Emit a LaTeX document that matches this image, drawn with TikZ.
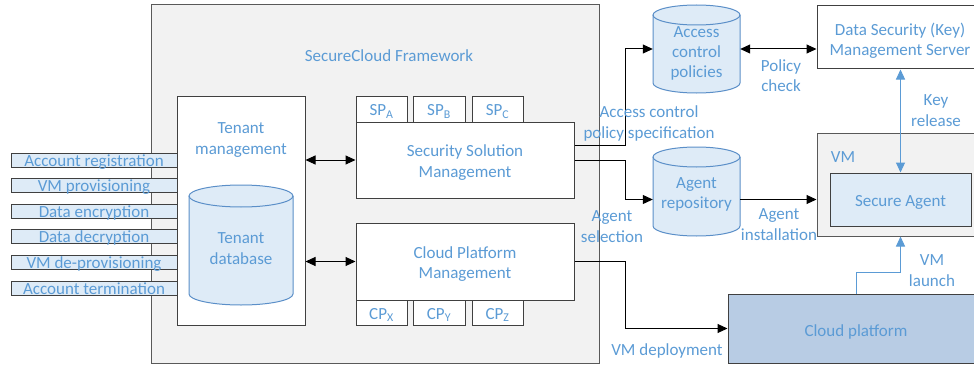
\documentclass[tikz,border=0pt]{standalone}
\usepackage{fontspec}
\setmainfont{Carlito}
\usetikzlibrary{arrows.meta,calc}
\definecolor{txtblue}{HTML}{5B9BD5}
\definecolor{lightblue}{HTML}{DEEBF7}
\definecolor{cpblue}{HTML}{B8CCE4}
\definecolor{bggray}{HTML}{F2F2F2}
\definecolor{edgegray}{HTML}{404040}
\definecolor{framegray}{HTML}{595959}
\definecolor{cylblue}{HTML}{5B8FC8}
\begin{document}
\begin{tikzpicture}[x=1pt,y=-1pt,
  font=\fontsize{17}{20.3}\selectfont,
  plain/.style={text=txtblue, align=center, inner sep=0pt},
  lbl/.style={plain, yshift=-2.5pt},
  box/.style={draw=edgegray, fill=white, line width=1pt, inner sep=0pt},
  barbox/.style={draw=edgegray, fill=lightblue, line width=1pt, inner sep=0pt, minimum width=166pt, minimum height=14pt},
  cylarea/.style={inner sep=0pt},
  arr/.style={-{Triangle[length=10pt,width=9pt]}, line width=1pt},
  darr/.style={{Triangle[length=10pt,width=9pt]}-{Triangle[length=10pt,width=9pt]}, line width=1pt},
  cylline/.style={draw=cylblue, line width=1pt},
]
\useasboundingbox (0,0) rectangle (974,369);
\clip (0,0) rectangle (974,369);

% Framework
\node[draw=framegray, fill=bggray, line width=1pt, minimum width=448pt, minimum height=358pt, inner sep=0pt] (fw) at (375,184) {};
\node[lbl] (fwt) at (389,53) {SecureCloud Framework};

% left bars
\node[barbox] (b1) at (94,160) {};
\node[barbox] (b2) at (94,185) {};
\node[barbox] (b3) at (94,211) {};
\node[barbox] (b4) at (94,236) {};
\node[barbox] (b5) at (94,262) {};
\node[barbox] (b6) at (94,288) {};
\node[plain, anchor=base] (t1) at (94,166.5) {Account registration};
\node[plain, anchor=base] (t2) at (94,191.5) {VM provisioning};
\node[plain, anchor=base] (t3) at (94,217.5) {Data encryption};
\node[plain, anchor=base] (t4) at (94,242.5) {Data decryption};
\node[plain, anchor=base] (t5) at (94,268.5) {VM de-provisioning};
\node[plain, anchor=base] (t6) at (94,294.5) {Account termination};

% Tenant management
\node[box, minimum width=128pt, minimum height=229pt] (tenant) at (241,210.5) {};
\node[lbl] (tenantt) at (241,137.5) {Tenant\\management};

% Tenant database cylinder
\fill[lightblue] (189,196) -- (189,294) arc[start angle=180,end angle=360,x radius=52pt,y radius=11pt] -- (293,196) arc[start angle=0,end angle=180,x radius=52pt,y radius=11pt] -- cycle;
\draw[cylline] (189,196) -- (189,294) arc[start angle=180,end angle=360,x radius=52pt,y radius=11pt] -- (293,196);
\draw[cylline] (241,196) ellipse [x radius=52pt, y radius=11pt];
\node[cylarea, minimum width=104pt, minimum height=120pt] (tdb) at (241,245) {};
\node[lbl] (tdbt) at (241,246) {Tenant\\database};

% Security Solution Management
\node[box, minimum width=218pt, minimum height=76pt] (ssm) at (465,160) {};
\node[lbl] (ssmt) at (ssm) {Security Solution\\Management};
\node[box, minimum width=51pt, minimum height=26pt] (spa) at (381.5,109) {};
\node[box, minimum width=52pt, minimum height=26pt] (spb) at (439,109) {};
\node[box, minimum width=51pt, minimum height=26pt] (spc) at (497.5,109) {};
\node[lbl] (spat) at (spa) {SP\textsubscript{A}};
\node[lbl] (spbt) at (spb) {SP\textsubscript{B}};
\node[lbl] (spct) at (spc) {SP\textsubscript{C}};

% Cloud Platform Management
\node[box, minimum width=218pt, minimum height=77pt] (cpm) at (465,261.5) {};
\node[lbl] (cpmt) at (cpm) {Cloud Platform\\Management};
\node[box, minimum width=51pt, minimum height=25pt] (cpx) at (381.5,312.5) {};
\node[box, minimum width=52pt, minimum height=25pt] (cpy) at (439,312.5) {};
\node[box, minimum width=51pt, minimum height=25pt] (cpz) at (497.5,312.5) {};
\node[lbl] (cpxt) at (cpx) {CP\textsubscript{X}};
\node[lbl] (cpyt) at (cpy) {CP\textsubscript{Y}};
\node[lbl] (cpzt) at (cpz) {CP\textsubscript{Z}};

% Access control policies cylinder
\fill[lightblue] (653,15) -- (653,83) arc[start angle=180,end angle=360,x radius=43.5pt,y radius=10pt] -- (740,15) arc[start angle=0,end angle=180,x radius=43.5pt,y radius=10pt] -- cycle;
\draw[cylline] (653,15) -- (653,83) arc[start angle=180,end angle=360,x radius=43.5pt,y radius=10pt] -- (740,15);
\draw[cylline] (696.5,15) ellipse [x radius=43.5pt, y radius=10pt];
\node[cylarea, minimum width=87pt, minimum height=88pt] (acp) at (696.5,49) {};
\node[lbl] (acpt) at (696.5,51) {Access\\control\\policies};

% Agent repository cylinder
\fill[lightblue] (653,157) -- (653,226) arc[start angle=180,end angle=360,x radius=43.5pt,y radius=10pt] -- (740,157) arc[start angle=0,end angle=180,x radius=43.5pt,y radius=10pt] -- cycle;
\draw[cylline] (653,157) -- (653,226) arc[start angle=180,end angle=360,x radius=43.5pt,y radius=10pt] -- (740,157);
\draw[cylline] (696.5,157) ellipse [x radius=43.5pt, y radius=10pt];
\node[cylarea, minimum width=87pt, minimum height=89pt] (rep) at (696.5,191.5) {};
\node[lbl] (rept) at (696.5,192) {Agent\\repository};

% Data Security server
\node[box, minimum width=166pt, minimum height=63pt] (dss) at (900,37.5) {};
\node[lbl] (dsst) at (900,38) {Data Security (Key)\\Management Server};

% VM
\node[draw=framegray, fill=bggray, line width=1pt, minimum width=166pt, minimum height=103pt, inner sep=0pt] (vm) at (900,184.5) {};
\node[lbl] (vmt) at (843,155) {VM};
\node[box, fill=lightblue, minimum width=141pt, minimum height=53pt] (sa) at (900.5,199.5) {};
\node[lbl] (sat) at (900.5,200) {Secure Agent};

% Cloud platform
\node[box, fill=cpblue, minimum width=256pt, minimum height=69pt] (cp) at (856,328.5) {};
\node[lbl] (cpt) at (856,329.5) {Cloud platform};

% connectors
\draw[darr] (tenant.east |- ssm.west) -- (ssm.west);
\draw[darr] (tenant.east |- cpm.west) -- (cpm.west);
\draw[arr] ([yshift=15pt]ssm.east) -- ++(51,0) |- (acp.west);
\draw[arr] (ssm.east) -- ++(51,0) |- ([yshift=-8pt]rep.west);
\draw[arr] ([yshift=-8pt]rep.east) -- ([yshift=-8pt]rep.east -| vm.west);
\draw[darr] (acp.east) -- (acp.east -| dss.west);
\draw[darr, draw=txtblue] (sa.north) -- (sa.north |- dss.south);
\draw[arr, draw=txtblue] (cp.north) -- ++(0,-21) -| (sa.north |- vm.south);

% labels
\node[lbl] (l1) at (649,121) {Access control\\policy specification};
\node[lbl] (l2) at (612,224) {Agent\\selection};
\node[lbl] (l3) at (781,73) {Policy\\check};
\node[lbl] (l4) at (936,108) {Key\\release};
\node[lbl] (l5) at (779,222) {Agent\\installation};
\node[lbl] (l6) at (932,268) {VM\\launch};
\node[lbl] (l7) at (667,348) {VM deployment};
\draw[arr] (cpm.east) -- ++(51,0) |- (cp.west);
\end{tikzpicture}
\end{document}
